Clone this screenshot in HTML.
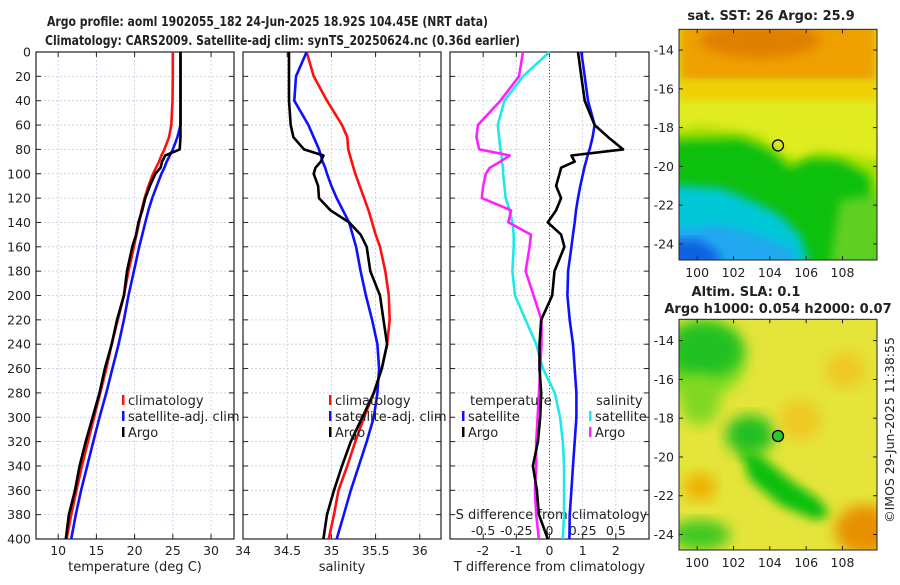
<!DOCTYPE html>
<html><head><meta charset="utf-8"><style>
html,body{margin:0;padding:0;background:#fff;}
svg text{font-family:"DejaVu Sans","Liberation Sans",sans-serif;fill:#222;}
</style></head><body>
<svg id="fig" width="900" height="580" viewBox="0 0 900 580" xmlns="http://www.w3.org/2000/svg">
<defs>
<filter id="bl" x="-20%" y="-20%" width="140%" height="140%"><feGaussianBlur stdDeviation="5"/></filter>
<filter id="bl2" x="-20%" y="-20%" width="140%" height="140%"><feGaussianBlur stdDeviation="7"/></filter>
<clipPath id="c1"><rect x="679" y="29" width="198" height="231"/></clipPath>
<clipPath id="c2"><rect x="679" y="319" width="198" height="231"/></clipPath>
</defs>
<text x="47" y="26" font-size="13" font-weight="bold" textLength="441" lengthAdjust="spacingAndGlyphs" fill="#000">Argo profile: aoml 1902055_182 24-Jun-2025 18.92S 104.45E (NRT data)</text>
<text x="45" y="45" font-size="13" font-weight="bold" textLength="475" lengthAdjust="spacingAndGlyphs">Climatology: CARS2009. Satellite-adj clim: synTS_20250624.nc (0.36d earlier)</text>

<!-- SST map -->
<g clip-path="url(#c1)">
<rect x="679" y="29" width="198" height="231" fill="#e0ec20"/>
<rect x="679" y="20" width="198" height="62" fill="#eea000" filter="url(#bl)"/>
<ellipse cx="760" cy="40" rx="60" ry="18" fill="#e08000" filter="url(#bl)"/>
<rect x="679" y="82" width="198" height="18" fill="#f0cc00" filter="url(#bl)"/>
<polygon points="670,132 700,125 730,130 760,135 775,150 800,160 820,150 850,155 885,160 885,270 670,270" fill="#a8e000" filter="url(#bl)"/>
<polygon points="670,140 740,138 770,150 790,168 810,158 840,160 870,175 880,270 670,270" fill="#10c010" filter="url(#bl)"/>
<polygon points="670,185 720,188 750,200 780,215 800,235 810,265 670,265" fill="#00c8d8" filter="url(#bl)"/>
<polygon points="670,230 720,225 760,235 790,248 800,265 670,265" fill="#20a8f0" filter="url(#bl)"/>
<polygon points="670,240 700,240 720,255 720,265 670,265" fill="#1060e0" filter="url(#bl)"/>
<polygon points="840,200 880,195 880,265 830,265" fill="#60d020" filter="url(#bl)"/>
</g>
<!-- SLA map -->
<g clip-path="url(#c2)">
<rect x="679" y="319" width="198" height="231" fill="#e4e43a"/>
<ellipse cx="700" cy="360" rx="45" ry="38" fill="#80dc20" filter="url(#bl2)"/>
<ellipse cx="705" cy="350" rx="38" ry="28" fill="#20c020" filter="url(#bl2)"/>
<ellipse cx="700" cy="400" rx="20" ry="25" fill="#80d820" filter="url(#bl2)"/>
<ellipse cx="750" cy="435" rx="24" ry="20" fill="#20c020" filter="url(#bl2)"/>
<polygon points="740,450 760,455 790,480 820,500 830,515 815,520 780,505 750,480" fill="#10c010" filter="url(#bl)"/>
<ellipse cx="700" cy="535" rx="30" ry="15" fill="#40c820" filter="url(#bl2)"/>
<ellipse cx="865" cy="530" rx="30" ry="25" fill="#e89000" filter="url(#bl2)"/>
<ellipse cx="700" cy="487" rx="16" ry="14" fill="#f0b000" filter="url(#bl2)"/>
<ellipse cx="800" cy="420" rx="20" ry="20" fill="#f0c820" filter="url(#bl2)"/>
<ellipse cx="845" cy="370" rx="20" ry="18" fill="#f0c820" filter="url(#bl2)"/>
</g>
<g id="gAxes"></g>
<text transform="translate(894,430) rotate(-90)" text-anchor="middle" font-size="12.5">©IMOS 29-Jun-2025 11:38:55</text>
</svg>
<script>
// ---- data ----
const depths = [0,20,40,60,70,80,85,90,95,100,110,120,130,140,150,160,180,200,220,240,260,280,300,320,340,360,380,400];
const tempClim = [25.0,25.0,24.95,24.8,24.5,23.9,23.5,23.2,22.8,22.4,21.8,21.3,20.9,20.6,20.25,19.9,19.2,18.6,17.8,17.0,16.3,15.5,14.7,13.9,13.1,12.4,11.7,11.1];
const tempSat  = [26.0,26.0,26.0,26.0,25.6,25.0,24.6,24.2,23.9,23.5,22.9,22.3,21.8,21.4,21.0,20.6,19.9,19.2,18.6,17.9,17.1,16.3,15.4,14.6,13.8,13.0,12.3,11.7];
const tempArgo = [26.0,26.0,26.0,26.0,26.0,25.9,24.0,23.6,23.4,22.7,22.0,21.4,21.0,20.5,20.2,19.7,19.0,18.6,17.7,17.0,16.1,15.4,14.5,13.6,12.8,12.2,11.4,11.0];
const salClim = [34.72,34.80,34.95,35.12,35.18,35.19,35.21,35.23,35.25,35.27,35.32,35.37,35.42,35.46,35.50,35.55,35.61,35.65,35.66,35.63,35.57,35.48,35.37,35.27,35.18,35.08,35.03,34.97];
const salSat  = [34.72,34.60,34.58,34.74,34.80,34.86,34.88,34.90,34.93,34.95,35.00,35.06,35.13,35.20,35.24,35.28,35.33,35.39,35.46,35.52,35.54,35.52,35.48,35.40,35.31,35.22,35.14,35.06];
const salArgo = [34.52,34.52,34.52,34.54,34.57,34.69,34.91,34.88,34.82,34.80,34.85,34.86,34.99,35.20,35.33,35.40,35.44,35.55,35.59,35.63,35.57,35.48,35.35,35.22,35.12,35.03,34.95,34.91];
const tDiffSat  = [0.96,1.06,1.16,1.36,1.30,1.21,1.15,1.10,1.05,1.01,0.93,0.86,0.80,0.76,0.71,0.66,0.56,0.54,0.61,0.71,0.76,0.81,0.81,0.76,0.71,0.66,0.61,0.60];
const tDiffArgo = [0.86,0.96,1.06,1.36,1.77,2.22,0.66,0.76,0.35,0.30,0.20,0.35,0.20,-0.05,0.35,0.45,0.15,0.08,-0.25,-0.30,-0.30,-0.25,-0.28,-0.35,-0.50,-0.38,-0.32,-0.05];
const sDiffSat  = [0,-0.20,-0.34,-0.39,-0.38,-0.37,-0.36,-0.36,-0.35,-0.35,-0.34,-0.33,-0.30,-0.28,-0.27,-0.27,-0.28,-0.26,-0.18,-0.10,-0.05,0.04,0.08,0.10,0.11,0.11,0.11,0.10];
const sDiffArgo = [-0.20,-0.23,-0.37,-0.54,-0.55,-0.53,-0.30,-0.37,-0.45,-0.48,-0.50,-0.51,-0.29,-0.31,-0.14,-0.15,-0.18,-0.12,-0.06,-0.06,-0.07,-0.08,-0.09,-0.10,-0.10,-0.11,-0.10,-0.08];
const depthTicks = [0,20,40,60,80,100,120,140,160,180,200,220,240,260,280,300,320,340,360,380,400];
const tempTicks = [10,15,20,25,30];
const salTicks = [34,34.5,35,35.5,36];
const tDiffTicks = [-2,-1,0,1,2];
const sDiffTicks = [-0.5,-0.25,0,0.25,0.5];
const sDiffTickLabels = ['-0.5','-0.25','0','0.25','0.5'];
const lonTicks = [100,102,104,106,108];
const latTicks = [-14,-16,-18,-20,-22,-24];
const argoLon = 104.45, argoLat = -18.92;

// ---- axes ----
const Y0=52, Y1=539;
const yD = d => Y0 + d/400*(Y1-Y0);
const lin = (a,b,p,q) => v => p + (v-a)/(b-a)*(q-p);
const P1 = {x0:36,x1:234,sx:lin(7.1,33,36,234)};
const P2 = {x0:243,x1:441,sx:lin(34,36.24,243,441)};
const P3 = {x0:450,x1:649,sx:lin(-3,3,450,649)};
const sdx = v => P3.sx(4*v);
const NS='http://www.w3.org/2000/svg';
const G=document.getElementById('gAxes');
function mk(tag,at,parent){const e=document.createElementNS(NS,tag);for(const k in at)e.setAttribute(k,at[k]);(parent||G).appendChild(e);return e;}
function txt(s,at,parent){const e=mk('text',at,parent);e.textContent=s;return e;}

function panel(P,name,xticks,xlabels,xtitle){
  const g=mk('g',{});
  
  
  depthTicks.forEach(d=>{const y=yD(d);
    const l=mk('line',{x1:P.x0,x2:P.x1,y1:y,y2:y,stroke:'#c4cce0','stroke-width':0.8,'stroke-dasharray':'2,2'},g);
    
    
    mk('line',{x1:P.x0,x2:P.x0+5,y1:y,y2:y,stroke:'#222'},g);
    mk('line',{x1:P.x1-5,x2:P.x1,y1:y,y2:y,stroke:'#222'},g);
  });
  xticks.forEach((v,i)=>{const x=P.sx(v);
    const l=mk('line',{x1:x,x2:x,y1:Y0,y2:Y1,stroke:'#c4cce0','stroke-width':0.8,'stroke-dasharray':'2,2'},g);
    
    
    mk('line',{x1:x,x2:x,y1:Y1-5,y2:Y1,stroke:'#222'},g);
    mk('line',{x1:x,x2:x,y1:Y0,y2:Y0+5,stroke:'#222'},g);
    const t=txt(xlabels[i],{x:x,y:555,'font-size':12.5,'text-anchor':'middle'},g);
    
    
  });
  const r=mk('rect',{x:P.x0,y:Y0,width:P.x1-P.x0,height:Y1-Y0,fill:'none',stroke:'#222','stroke-width':1.2},g);
  
  
  const t=txt(xtitle,{x:(P.x0+P.x1)/2,y:571,'font-size':13,'text-anchor':'middle'},g);
  
  
  return g;
}
panel(P1,'temperature-panel',tempTicks,tempTicks.map(String),'temperature (deg C)');
panel(P2,'salinity-panel',salTicks,salTicks.map(String),'salinity');
const g3=panel(P3,'difference-panel',tDiffTicks,tDiffTicks.map(String),'T difference from climatology');
mk('line',{x1:P3.sx(0),x2:P3.sx(0),y1:Y0,y2:Y1,stroke:'#555','stroke-width':1,'stroke-dasharray':'1,2'},g3);
depthTicks.forEach(d=>{const t=txt(String(d),{x:31,y:yD(d)+4.5,'font-size':12.5,'text-anchor':'end'});
  
  
});
let st=txt('S difference from climatology',{x:P3.sx(0)+2,y:519,'font-size':13,'text-anchor':'middle'});


sDiffTicks.forEach((v,i)=>{const t=txt(sDiffTickLabels[i],{x:sdx(v),y:535,'font-size':12.5,'text-anchor':'middle'});
  
  
});

function series(vals,sx,color,name){
  const pts=vals.map((v,i)=>sx(v).toFixed(1)+','+yD(depths[i]).toFixed(1)).join(' ');
  const p=mk('polyline',{points:pts,fill:'none',stroke:color,'stroke-width':2.6,'stroke-linejoin':'round'});
  
  
}
series(tempSat,P1.sx,'#1010ff','temp-satellite-line');
series(tempClim,P1.sx,'#ff1010','temp-climatology-line');
series(tempArgo,P1.sx,'#000','temp-argo-line');
series(salClim,P2.sx,'#ff1010','sal-climatology-line');
series(salSat,P2.sx,'#1010ff','sal-satellite-line');
series(salArgo,P2.sx,'#000','sal-argo-line');
series(sDiffSat,sdx,'#20e8e8','sdiff-satellite-line');
series(sDiffArgo,sdx,'#ff20ff','sdiff-argo-line');
series(tDiffSat,P3.sx,'#1010ff','tdiff-satellite-line');
series(tDiffArgo,P3.sx,'#000','tdiff-argo-line');

function legend(x,y,color,label){
  const g=mk('g',{});
  
  
  mk('rect',{x:x,y:y-10,width:2.5,height:10,fill:color},g);
  txt(label,{x:x+6,y:y,'font-size':13},g);
}
legend(122,405,'#ff1010','climatology');legend(122,421,'#1010ff','satellite-adj. clim');legend(122,437,'#000','Argo');
legend(329,405,'#ff1010','climatology');legend(329,421,'#1010ff','satellite-adj. clim');legend(329,437,'#000','Argo');
let lt=txt('temperature',{x:470,y:405,'font-size':13});


lt=txt('salinity',{x:596,y:405,'font-size':13});


legend(462,421,'#1010ff','satellite');legend(462,437,'#000','Argo');
legend(589,421,'#20e8e8','satellite');legend(589,437,'#ff20ff','Argo');

// ---- maps ----
function mapAxes(top,bot,latTop,latBot,title1,fillC,name){
  const sx=lin(99.0,109.9,679,877), sy=lin(latTop,latBot,top,bot);
  const g=mk('g',{});
  
  
  mk('rect',{x:679,y:top,width:198,height:bot-top,fill:'none',stroke:'#222','stroke-width':1},g);
  lonTicks.forEach(v=>{const x=sx(v);mk('line',{x1:x,x2:x,y1:bot,y2:bot-4,stroke:'#222'},g);mk('line',{x1:x,x2:x,y1:top,y2:top+4,stroke:'#222'},g);
    txt(String(v),{x:x,y:bot+17,'font-size':12.5,'text-anchor':'middle'},g);});
  latTicks.forEach(v=>{const y=sy(v);mk('line',{x1:679,x2:683,y1:y,y2:y,stroke:'#222'},g);mk('line',{x1:873,x2:877,y1:y,y2:y,stroke:'#222'},g);
    txt(String(v),{x:674,y:y+4.5,'font-size':12.5,'text-anchor':'end'},g);});
  const c=mk('circle',{cx:sx(argoLon),cy:sy(argoLat),r:5.5,fill:fillC,stroke:'#000','stroke-width':1.3},g);
  
  
  title1.forEach(t=>txt(t[0],{x:t[1],y:t[2],'font-size':13,'font-weight':'bold','text-anchor':'middle',fill:'#000'},g));
}
mapAxes(29.3,260,-12.93,-24.83,[['sat. SST: 26 Argo: 25.9',771,20]],'none','sst-map-axes');
mapAxes(319.3,550,-12.9,-24.8,[['Altim. SLA: 0.1',746,296],['Argo h1000: 0.054 h2000: 0.07',778,313]],'#30c830','sla-map-axes');
</script>
</body></html>
